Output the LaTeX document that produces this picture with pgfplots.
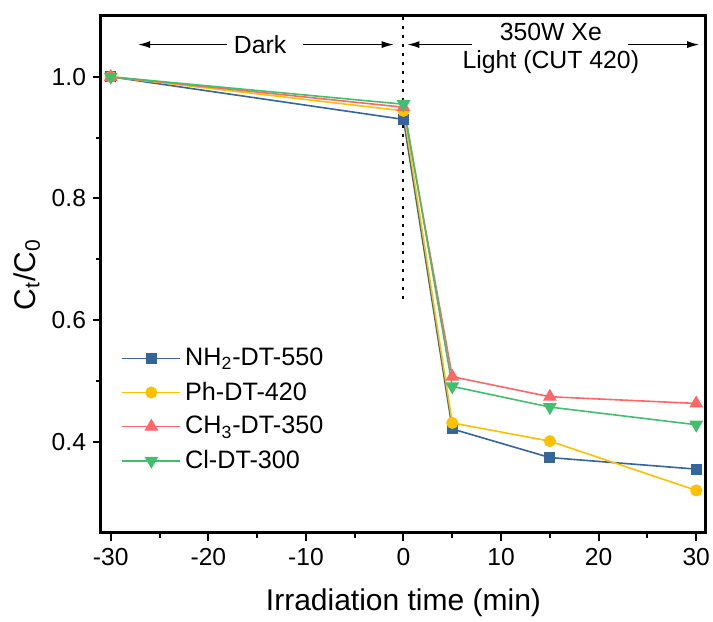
\documentclass[border=0pt]{standalone}
\usepackage{pgfplots}
\pgfplotsset{compat=1.18}
\usepackage{fontspec}
\setmainfont{Liberation Sans}
\usetikzlibrary{arrows.meta}
\definecolor{cblue}{RGB}{52,101,155}
\definecolor{cyel}{RGB}{255,192,0}
\definecolor{cred}{RGB}{255,102,102}
\definecolor{cgrn}{RGB}{64,192,110}
\begin{document}
\begin{tikzpicture}
\begin{axis}[
  scale only axis,
  width=302.5pt, height=258.5pt,
  xmin=-31, xmax=31, ymin=0.25, ymax=1.1,
  xtick={-30,-20,...,30}, ytick={0.4,0.6,0.8,1.0},
  minor x tick num=1, minor y tick num=1,
  tick align=outside, tick pos=left,
  major tick length=4pt, minor tick length=2.5pt,
  every tick/.style={black, line width=1pt},
  axis line style={line width=1.5pt},
  yticklabel style={/pgf/number format/.cd, fixed, fixed zerofill, precision=1},
  /pgf/number format/assume math mode=true,
  ticklabel style={font=\fontsize{12.3}{14}\selectfont},
  xlabel={Irradiation time (min)},
  ylabel={C\textsubscript{t}/C\textsubscript{0}},
  label style={font=\fontsize{15}{17}\selectfont},
  xlabel style={yshift=-5pt},
  ylabel style={yshift=-1pt},
  legend style={at={(0.03,0.37)}, anchor=north west, draw=none, fill=none,
    font=\fontsize{12.6}{14}\selectfont, row sep=2.6pt, inner sep=1pt},
  legend cell align=left,
  legend image code/.code={\draw[mark repeat=2,mark phase=2] plot coordinates {(0pt,0pt) (14.5pt,0pt) (29pt,0pt)};},
  every axis plot/.append style={line width=0.8pt},
]
\addplot[cblue, mark=square*, mark size=2.3pt, mark options={fill=cblue}] coordinates {(-30,1.0) (0,0.930) (5,0.421) (15,0.374) (30,0.355)};
\addlegendentry{NH\textsubscript{2}-DT-550}
\addplot[cyel, mark=*, mark size=2.6pt, mark options={fill=cyel}] coordinates {(-30,1.0) (0,0.944) (5,0.431) (15,0.401) (30,0.320)};
\addlegendentry{Ph-DT-420}
\addplot[cred, mark=triangle*, mark size=3.2pt, mark options={fill=cred}] coordinates {(-30,1.0) (0,0.950) (5,0.507) (15,0.474) (30,0.463)};
\addlegendentry{CH\textsubscript{3}-DT-350}
\addplot[cgrn, mark=triangle*, mark size=3.2pt, mark options={fill=cgrn, rotate=180}] coordinates {(-30,1.0) (0,0.955) (5,0.491) (15,0.457) (30,0.428)};
\addlegendentry{Cl-DT-300}
\draw[line width=1pt, dash pattern=on 1.3pt off 3.2pt] (axis cs:0,0.635) -- (axis cs:0,1.1);
\node[font=\fontsize{12.4}{14}\selectfont] at (axis cs:-14.7,1.053) {Dark};
\draw[-{Latex[length=6pt,width=3.5pt]}, line width=0.6pt] (axis cs:-18.1,1.053) -- (axis cs:-27.2,1.053);
\draw[-{Latex[length=6pt,width=3.5pt]}, line width=0.6pt] (axis cs:-10.3,1.053) -- (axis cs:-1.0,1.053);
\node[font=\fontsize{12.4}{14}\selectfont] at (axis cs:15.1,1.074) {350W Xe};
\node[font=\fontsize{12.4}{14}\selectfont] at (axis cs:15.1,1.025) {Light (CUT 420)};
\draw[-{Latex[length=6pt,width=3.5pt]}, line width=0.6pt] (axis cs:7.0,1.053) -- (axis cs:0.4,1.053);
\draw[-{Latex[length=6pt,width=3.5pt]}, line width=0.6pt] (axis cs:23.0,1.053) -- (axis cs:30.3,1.053);
\end{axis}
\pgfresetboundingbox
\path ([shift={(-50.5pt,-44.5pt)}]current axis.south west) rectangle ([shift={(3.5pt,8pt)}]current axis.north east);
\end{tikzpicture}
\end{document}
